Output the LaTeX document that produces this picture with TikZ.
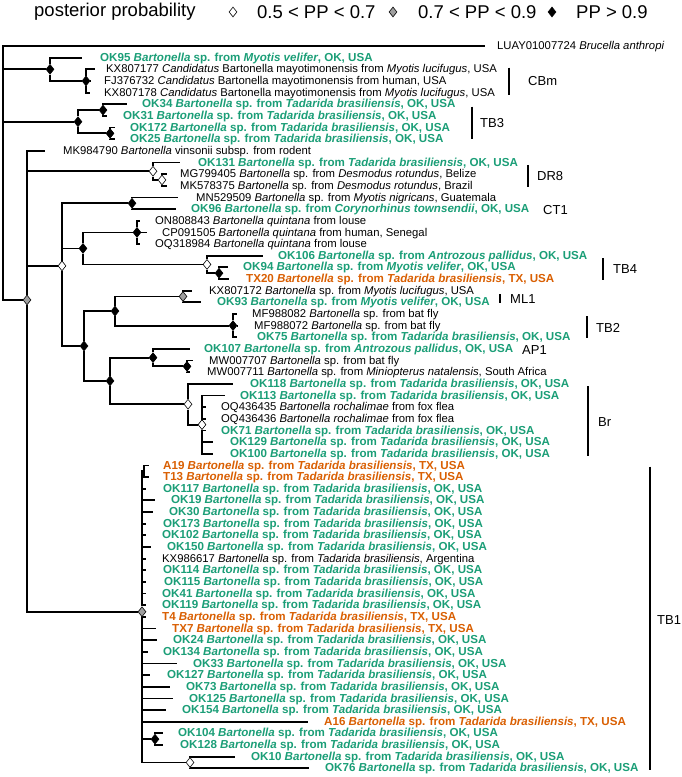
\documentclass[tikz,border=0pt]{standalone}
\usepackage{fontspec}
\setmainfont{Liberation Sans}
\usetikzlibrary{shapes.geometric,backgrounds}
\definecolor{okgreen}{HTML}{1B9E77}
\definecolor{txorange}{HTML}{D95F02}
\newcommand{\Bsp}{\textit{Bartonella} sp. from}
\newcommand{\Tbr}{\textit{Tadarida brasiliensis}}
\tikzset{
  pplow/.style={diamond, draw=black, fill=white, line width=0.6pt, minimum width=8pt, minimum height=10pt, inner sep=0pt},
  ppmid/.style={pplow, fill=gray!75},
  pphigh/.style={pplow, fill=black},
  branch/.style={line width=1.8pt},
  taxon/.style={anchor=west, inner sep=0pt, text height=0.72em, text depth=0pt, font=\fontsize{11.3}{12}\selectfont},
  okbat/.style={taxon, text=okgreen, font=\fontsize{11.6}{12}\selectfont\bfseries},
  txbat/.style={taxon, text=txorange, font=\fontsize{11.6}{12}\selectfont\bfseries},
  cladebar/.style={line width=1.8pt},
  cladename/.style={anchor=west, inner sep=0pt, font=\fontsize{13}{14}\selectfont},
  legtext/.style={anchor=west, inner sep=0pt, font=\fontsize{18.5}{20}\selectfont}
}

\begin{document}
\begin{tikzpicture}[x=1pt, y=-11.65pt]
  \useasboundingbox (0,-3.9485) rectangle (682,62.747);

  % legend
  \node[legtext] (legtitle) at (34,-2.92) {posterior probability};
  \node[pplow] (leglow) at (233,-2.92) {};
  \node[legtext] (leglowtxt) at (257,-2.92) {0.5 < PP < 0.7};
  \node[ppmid] (legmid) at (393,-2.92) {};
  \node[legtext] (legmidtxt) at (418,-2.92) {0.7 < PP < 0.9};
  \node[pphigh] (leghigh) at (552,-2.92) {};
  \node[legtext] (leghightxt) at (576,-2.92) {PP > 0.9};

  % internal nodes
  \coordinate (root) at (3,7.57);
  \node[pphigh] (cbm) at (50,2) {};
  \node[pphigh] (cbm2) at (86,3) {};
  \node[pphigh] (tb3) at (78,6.5) {};
  \node[pphigh] (tb3a) at (103,5.5) {};
  \node[pphigh] (tb3b) at (110,7.5) {};
  \node[ppmid] (ingr) at (27,21.8) {};
  \node[pplow] (dr8) at (153,10.75) {};
  \node[pplow] (dr8b) at (162,11.5) {};
  \node[pplow] (big) at (62,18.875) {};
  \node[pphigh] (ct1) at (132,13.5) {};
  \node[pphigh] (qtb4) at (83,17.375) {};
  \node[pphigh] (quin) at (137,16) {};
  \node[pplow] (tb4) at (207,18.75) {};
  \node[pphigh] (tb4b) at (219,19.5) {};
  \node[pphigh] (lower) at (84,25.75) {};
  \node[pphigh] (mltb2) at (115,22.75) {};
  \node[ppmid] (ml1) at (183,21.5) {};
  \node[pphigh] (tb2) at (233,24) {};
  \node[pphigh] (apbr) at (110,28.75) {};
  \node[pphigh] (ap1) at (153,26.75) {};
  \node[pphigh] (mw) at (187,27.5) {};
  \node[pplow] (br) at (188,30.75) {};
  \node[pplow] (br2) at (202,32.5) {};
  \node[ppmid] (tb1) at (142,48.5625) {};
  \coordinate (a19n) at (144,36.5);
  \node[pphigh] (ok104n) at (155,59.5) {};
  \node[pplow] (ok10n) at (190,61.5) {};

  % tips and labels
  \coordinate (brut) at (485,0);  \node[taxon] (bru) at (497,0) {LUAY01007724 \textit{Brucella anthropi}};
  \coordinate (ok95t) at (82,1);  \node[okbat] (ok95) at (100,1) {OK95 \Bsp{} \textit{Myotis velifer}, OK, USA};
  \coordinate (kx807177t) at (95,2);  \node[taxon] (kx807177) at (106,2) {KX807177 \textit{Candidatus} Bartonella mayotimonensis from \textit{Myotis lucifugus}, USA};
  \coordinate (fj376732t) at (90,3);  \node[taxon] (fj376732) at (104,3) {FJ376732 \textit{Candidatus} Bartonella mayotimonensis from human, USA};
  \coordinate (kx807178t) at (90,4);  \node[taxon] (kx807178) at (104,4) {KX807178 \textit{Candidatus} Bartonella mayotimonensis from \textit{Myotis lucifugus}, USA};
  \coordinate (ok34t) at (127,5);  \node[okbat] (ok34) at (142,5) {OK34 \Bsp{} \Tbr, OK, USA};
  \coordinate (ok31t) at (107,6);  \node[okbat] (ok31) at (123,6) {OK31 \Bsp{} \Tbr, OK, USA};
  \coordinate (ok172t) at (115,7);  \node[okbat] (ok172) at (130,7) {OK172 \Bsp{} \Tbr, OK, USA};
  \coordinate (ok25t) at (115,8);  \node[okbat] (ok25) at (130,8) {OK25 \Bsp{} \Tbr, OK, USA};
  \coordinate (mk984790t) at (45,9);  \node[taxon] (mk984790) at (63,9) {MK984790 \textit{Bartonella} vinsonii subsp. from rodent};
  \coordinate (ok131t) at (180,10);  \node[okbat] (ok131) at (198,10) {OK131 \Bsp{} \Tbr, OK, USA};
  \coordinate (mg799405t) at (167,11);  \node[taxon] (mg799405) at (180,11) {MG799405 \Bsp{} \textit{Desmodus rotundus}, Belize};
  \coordinate (mk578375t) at (167,12);  \node[taxon] (mk578375) at (180,12) {MK578375 \Bsp{} \textit{Desmodus rotundus}, Brazil};
  \coordinate (mn529509t) at (178,13);  \node[taxon] (mn529509) at (196,13) {MN529509 \Bsp{} \textit{Myotis nigricans}, Guatemala};
  \coordinate (ok96t) at (176,14);  \node[okbat] (ok96) at (191,14) {OK96 \Bsp{} \textit{Corynorhinus townsendii}, OK, USA};
  \coordinate (on808843t) at (140,15);  \node[taxon] (on808843) at (155,15) {ON808843 \textit{Bartonella quintana} from louse};
  \coordinate (cp091505t) at (147,16);  \node[taxon] (cp091505) at (162,16) {CP091505 \textit{Bartonella quintana} from human, Senegal};
  \coordinate (oq318984t) at (140,17);  \node[taxon] (oq318984) at (155,17) {OQ318984 \textit{Bartonella quintana} from louse};
  \coordinate (ok106t) at (263,18);  \node[okbat] (ok106) at (278,18) {OK106 \Bsp{} \textit{Antrozous pallidus}, OK, USA};
  \coordinate (ok94t) at (228,19);  \node[okbat] (ok94) at (243,19) {OK94 \Bsp{} \textit{Myotis velifer}, OK, USA};
  \coordinate (tx20t) at (229,20);  \node[txbat] (tx20) at (246,20) {TX20 \Bsp{} \Tbr, TX, USA};
  \coordinate (kx807172t) at (192,21);  \node[taxon] (kx807172) at (209,21) {KX807172 \Bsp{} \textit{Myotis lucifugus}, USA};
  \coordinate (ok93t) at (201,22);  \node[okbat] (ok93) at (217,22) {OK93 \Bsp{} \textit{Myotis velifer}, OK, USA};
  \coordinate (mf988082t) at (237,23);  \node[taxon] (mf988082) at (252,23) {MF988082 \Bsp{} bat fly};
  \coordinate (mf988072t) at (237,24);  \node[taxon] (mf988072) at (254,24) {MF988072 \Bsp{} bat fly};
  \coordinate (ok75t) at (237,25);  \node[okbat] (ok75) at (257,25) {OK75 \Bsp{} \Tbr, OK, USA};
  \coordinate (ok107t) at (190,26);  \node[okbat] (ok107) at (204,26) {OK107 \Bsp{} \textit{Antrozous pallidus}, OK, USA};
  \coordinate (mw007707t) at (193,27);  \node[taxon] (mw007707) at (209,27) {MW007707 \Bsp{} bat fly};
  \coordinate (mw007711t) at (190,28);  \node[taxon] (mw007711) at (207,28) {MW007711 \Bsp{} \textit{Miniopterus natalensis}, South Africa};
  \coordinate (ok118t) at (233,29);  \node[okbat] (ok118) at (250,29) {OK118 \Bsp{} \Tbr, OK, USA};
  \coordinate (ok113t) at (225,30);  \node[okbat] (ok113) at (240,30) {OK113 \Bsp{} \Tbr, OK, USA};
  \coordinate (oq436435t) at (206,31);  \node[taxon] (oq436435) at (221,31) {OQ436435 \textit{Bartonella rochalimae} from fox flea};
  \coordinate (oq436436t) at (206,32);  \node[taxon] (oq436436) at (221,32) {OQ436436 \textit{Bartonella rochalimae} from fox flea};
  \coordinate (ok71t) at (206,33);  \node[okbat] (ok71) at (221,33) {OK71 \Bsp{} \Tbr, OK, USA};
  \coordinate (ok129t) at (213,34);  \node[okbat] (ok129) at (230,34) {OK129 \Bsp{} \Tbr, OK, USA};
  \coordinate (ok100t) at (213,35);  \node[okbat] (ok100) at (230,35) {OK100 \Bsp{} \Tbr, OK, USA};
  \coordinate (a19t) at (149,36);  \node[txbat] (a19) at (163,36) {A19 \Bsp{} \Tbr, TX, USA};
  \coordinate (t13t) at (149,37);  \node[txbat] (t13) at (163,37) {T13 \Bsp{} \Tbr, TX, USA};
  \coordinate (ok117t) at (146,38);  \node[okbat] (ok117) at (163,38) {OK117 \Bsp{} \Tbr, OK, USA};
  \coordinate (ok19t) at (155,39);  \node[okbat] (ok19) at (171,39) {OK19 \Bsp{} \Tbr, OK, USA};
  \coordinate (ok30t) at (153,40);  \node[okbat] (ok30) at (169,40) {OK30 \Bsp{} \Tbr, OK, USA};
  \coordinate (ok173t) at (146,41);  \node[okbat] (ok173) at (163,41) {OK173 \Bsp{} \Tbr, OK, USA};
  \coordinate (ok102t) at (146,42);  \node[okbat] (ok102) at (162,42) {OK102 \Bsp{} \Tbr, OK, USA};
  \coordinate (ok150t) at (151,43);  \node[okbat] (ok150) at (167,43) {OK150 \Bsp{} \Tbr, OK, USA};
  \coordinate (kx986617t) at (146,44);  \node[taxon] (kx986617) at (162,44) {KX986617 \Bsp{} \Tbr, Argentina};
  \coordinate (ok114t) at (146,45);  \node[okbat] (ok114) at (163,45) {OK114 \Bsp{} \Tbr, OK, USA};
  \coordinate (ok115t) at (146,46);  \node[okbat] (ok115) at (164,46) {OK115 \Bsp{} \Tbr, OK, USA};
  \coordinate (ok41t) at (146,47);  \node[okbat] (ok41) at (162,47) {OK41 \Bsp{} \Tbr, OK, USA};
  \coordinate (ok119t) at (146,48);  \node[okbat] (ok119) at (162,48) {OK119 \Bsp{} \Tbr, OK, USA};
  \coordinate (t4t) at (146,49);  \node[txbat] (t4) at (162,49) {T4 \Bsp{} \Tbr, TX, USA};
  \coordinate (tx7t) at (156,50);  \node[txbat] (tx7) at (172,50) {TX7 \Bsp{} \Tbr, TX, USA};
  \coordinate (ok24t) at (157,51);  \node[okbat] (ok24) at (173,51) {OK24 \Bsp{} \Tbr, OK, USA};
  \coordinate (ok134t) at (148,52);  \node[okbat] (ok134) at (163,52) {OK134 \Bsp{} \Tbr, OK, USA};
  \coordinate (ok33t) at (177,53);  \node[okbat] (ok33) at (193,53) {OK33 \Bsp{} \Tbr, OK, USA};
  \coordinate (ok127t) at (150,54);  \node[okbat] (ok127) at (167,54) {OK127 \Bsp{} \Tbr, OK, USA};
  \coordinate (ok73t) at (170,55);  \node[okbat] (ok73) at (186,55) {OK73 \Bsp{} \Tbr, OK, USA};
  \coordinate (ok125t) at (173,56);  \node[okbat] (ok125) at (189,56) {OK125 \Bsp{} \Tbr, OK, USA};
  \coordinate (ok154t) at (166,57);  \node[okbat] (ok154) at (182,57) {OK154 \Bsp{} \Tbr, OK, USA};
  \coordinate (a16t) at (308,58);  \node[txbat] (a16) at (324,58) {A16 \Bsp{} \Tbr, TX, USA};
  \coordinate (ok104t) at (163,59);  \node[okbat] (ok104) at (178,59) {OK104 \Bsp{} \Tbr, OK, USA};
  \coordinate (ok128t) at (163,60);  \node[okbat] (ok128) at (180,60) {OK128 \Bsp{} \Tbr, OK, USA};
  \coordinate (ok10t) at (235,61);  \node[okbat] (ok10) at (251,61) {OK10 \Bsp{} \Tbr, OK, USA};
  \coordinate (ok76t) at (309,62);  \node[okbat] (ok76) at (325,62) {OK76 \Bsp{} \Tbr, OK, USA};

  % branches
  \begin{scope}[on background layer]
    \draw[branch] (root) |- (brut) (root) |- (cbm) (root) |- (tb3) (root) |- (ingr);
    \draw[branch] (cbm) |- (ok95t) (cbm) |- (cbm2);
    \draw[branch] (cbm2) |- (kx807177t) (cbm2) -- (fj376732t) (cbm2) |- (kx807178t);
    \draw[branch] (tb3) |- (tb3a) (tb3) |- (tb3b);
    \draw[branch] (tb3a) |- (ok34t) (tb3a) |- (ok31t);
    \draw[branch] (tb3b) |- (ok172t) (tb3b) |- (ok25t);
    \draw[branch] (ingr) |- (mk984790t) (ingr) |- (dr8) (ingr) |- (big) (ingr) |- (tb1);
    \draw[branch] (dr8) |- (ok131t) (dr8) |- (dr8b);
    \draw[branch] (dr8b) |- (mg799405t) (dr8b) |- (mk578375t);
    \draw[branch] (big) |- (ct1) (big) |- (qtb4) (big) |- (lower);
    \draw[branch] (ct1) |- (mn529509t) (ct1) |- (ok96t);
    \draw[branch] (qtb4) |- (quin) (qtb4) |- (tb4);
    \draw[branch] (quin) |- (on808843t) (quin) -- (cp091505t) (quin) |- (oq318984t);
    \draw[branch] (tb4) |- (ok106t) (tb4) |- (tb4b);
    \draw[branch] (tb4b) |- (ok94t) (tb4b) |- (tx20t);
    \draw[branch] (lower) |- (mltb2) (lower) |- (apbr);
    \draw[branch] (mltb2) |- (ml1) (mltb2) |- (tb2);
    \draw[branch] (ml1) |- (kx807172t) (ml1) |- (ok93t);
    \draw[branch] (tb2) |- (mf988082t) (tb2) -- (mf988072t) (tb2) |- (ok75t);
    \draw[branch] (apbr) |- (ap1) (apbr) |- (br);
    \draw[branch] (ap1) |- (ok107t) (ap1) |- (mw);
    \draw[branch] (mw) |- (mw007707t) (mw) |- (mw007711t);
    \draw[branch] (br) |- (ok118t) (br) |- (br2);
    \draw[branch] (br2) |- (ok113t) (br2) |- (oq436435t) (br2) |- (oq436436t) (br2) |- (ok71t) (br2) |- (ok129t) (br2) |- (ok100t);
    \draw[branch] (tb1) |- (a19n) (tb1) |- (ok117t) (tb1) |- (ok19t) (tb1) |- (ok30t) (tb1) |- (ok173t) (tb1) |- (ok102t) (tb1) |- (ok150t) (tb1) |- (kx986617t) (tb1) |- (ok114t) (tb1) |- (ok115t) (tb1) |- (ok41t) (tb1) |- (ok119t);
    \draw[branch] (tb1) |- (t4t) (tb1) |- (tx7t) (tb1) |- (ok24t) (tb1) |- (ok134t) (tb1) |- (ok33t) (tb1) |- (ok127t) (tb1) |- (ok73t) (tb1) |- (ok125t) (tb1) |- (ok154t) (tb1) |- (a16t) (tb1) |- (ok104n) (tb1) |- (ok10n);
    \draw[branch] (a19n) |- (a19t) (a19n) |- (t13t);
    \draw[branch] (ok104n) |- (ok104t) (ok104n) |- (ok128t);
    \draw[branch] (ok10n) |- (ok10t) (ok10n) |- (ok76t);
  \end{scope}

  % clade bars
  \draw[cladebar] (509,1.85) -- (509,4.2);   \node[cladename] (cbmname) at (528,3.0) {CBm};
  \draw[cladebar] (472,5.2) -- (472,8.0);    \node[cladename] (tb3name) at (480,6.6) {TB3};
  \draw[cladebar] (528,10.2) -- (528,12.1);  \node[cladename] (dr8name) at (537,11.16) {DR8};
  \node[cladename] (ct1name) at (543,14.1) {CT1};
  \draw[cladebar] (603,18.2) -- (603,20.1);  \node[cladename] (tb4name) at (613,19.14) {TB4};
  \draw[cladebar] (500,21.3) -- (500,22.06); \node[cladename] (ml1name) at (510,21.7) {ML1};
  \draw[cladebar] (587,23.2) -- (587,25.06); \node[cladename] (tb2name) at (596,24.2) {TB2};
  \node[cladename] (ap1name) at (522,26.1) {AP1};
  \draw[cladebar] (588,29.2) -- (588,35.2);  \node[cladename] (brname) at (598,32.3) {Br};
  \draw[cladebar] (650,36.1) -- (650,62.15); \node[cladename] (tb1name) at (657,49.3) {TB1};
\end{tikzpicture}
\end{document}
